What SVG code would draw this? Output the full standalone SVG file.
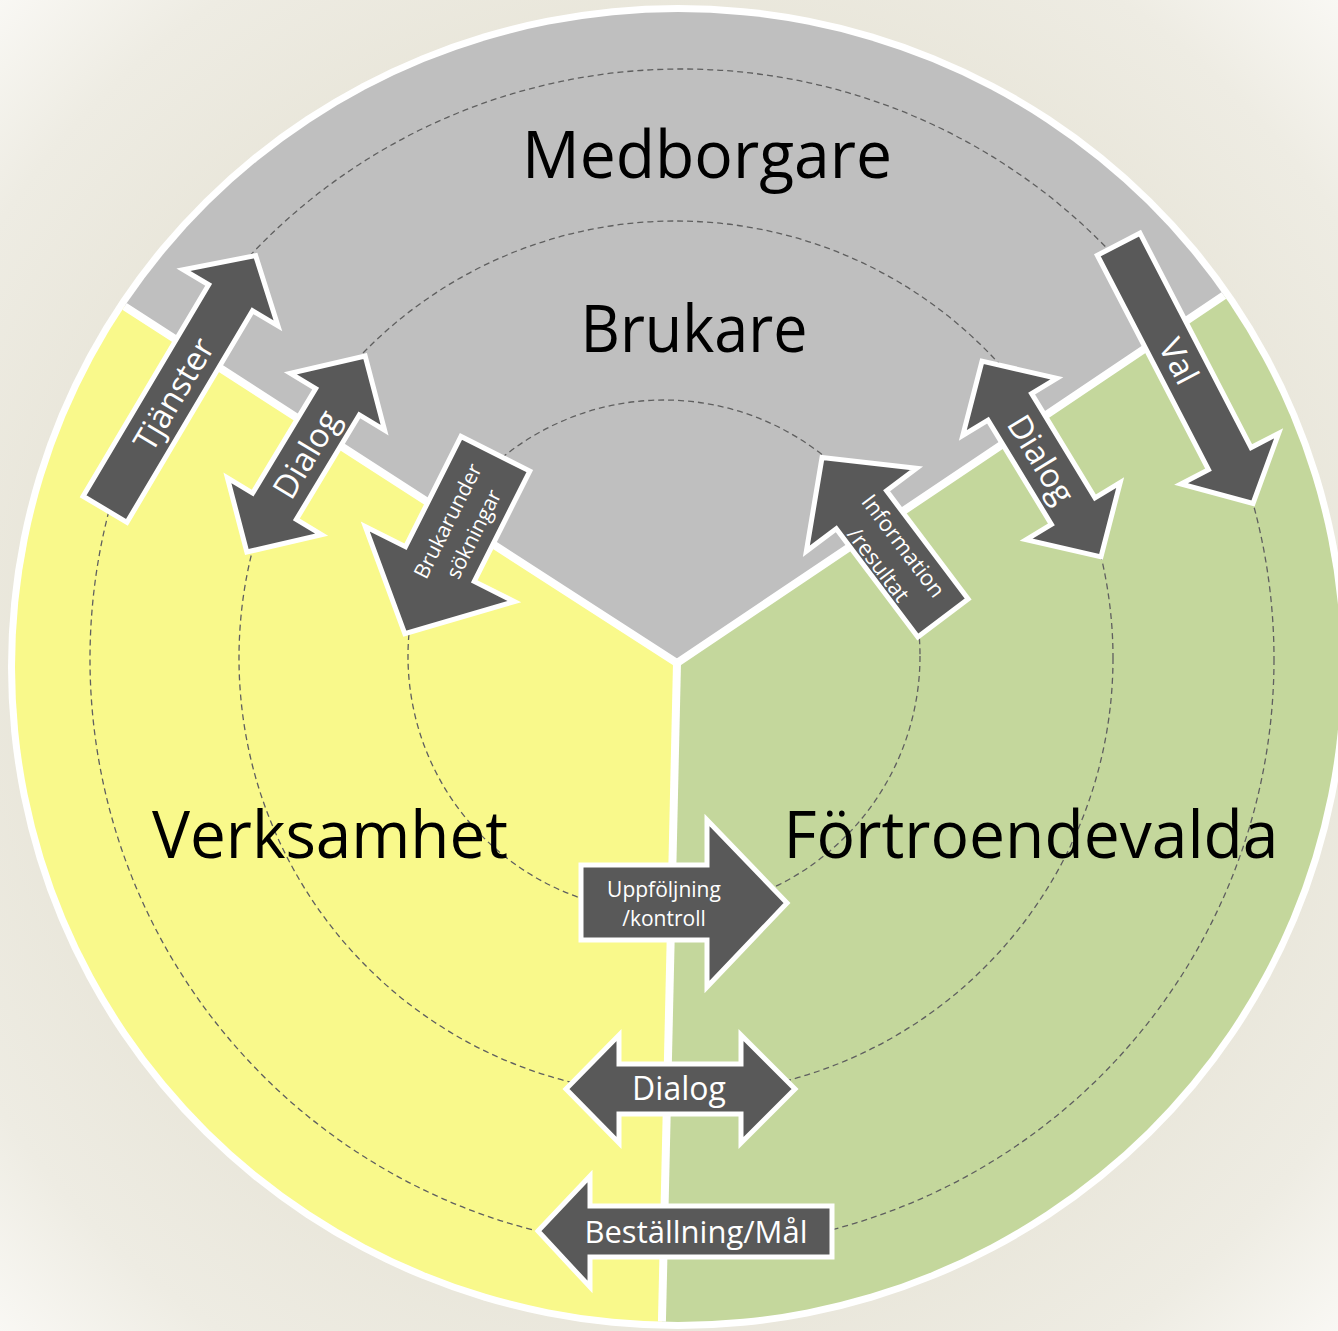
<svg xmlns="http://www.w3.org/2000/svg" width="1338" height="1331" viewBox="0 0 1338 1331">
<defs>
<radialGradient id="bg" cx="669" cy="665" r="945" gradientUnits="userSpaceOnUse">
<stop offset="0.6" stop-color="#e7e4d7"/>
<stop offset="0.85" stop-color="#eeece3"/>
<stop offset="1" stop-color="#f9f8f4"/>
</radialGradient>
<clipPath id="disc"><ellipse cx="678" cy="667" rx="663" ry="655"/></clipPath>
<style>
.arrow{fill:#595959;stroke:#fff;stroke-width:5;stroke-linejoin:miter}
.lbl{fill:#fff;font-family:"Open Sans","Liberation Sans",sans-serif;text-anchor:middle}
.big{fill:#000;font-family:"Open Sans","Liberation Sans",sans-serif;font-size:66px;text-anchor:middle}
.dash{fill:none;stroke:#5f5f5f;stroke-width:1.3;stroke-dasharray:6 4}
.sep{fill:none;stroke:#fff;stroke-width:8;stroke-linejoin:miter}
</style>
</defs>
<rect x="0" y="0" width="1338" height="1331" fill="url(#bg)"/>
<ellipse cx="678" cy="667" rx="670" ry="662" fill="#fff"/>
<g clip-path="url(#disc)">
<g id="medborgare-brukare">
<polygon points="677,663 -155,126 -155,-100 1500,-100 1494,114" fill="#bfbfbf"/>
</g>
<g id="verksamhet">
<polygon points="677,663 -155,126 -155,1500 659,1450" fill="#f9f98b"/>
</g>
<g id="fortroendevalda">
<polygon points="677,663 659,1450 1500,1500 1494,114" fill="#c4d79c"/>
</g>
<polyline class="sep" points="-155,126 677,663 1494,114"/>
<line class="sep" x1="677" y1="663" x2="659" y2="1450"/>
<g id="rings">
<circle class="dash" cx="664" cy="656" r="256"/>
<circle class="dash" cx="676" cy="658" r="437"/>
<ellipse class="dash" cx="682" cy="659" rx="592" ry="590"/>
</g>
</g>
<g id="labels">
<text class="big" x="707" y="178" textLength="370" lengthAdjust="spacingAndGlyphs">Medborgare</text>
<text class="big" x="694" y="352" textLength="227" lengthAdjust="spacingAndGlyphs">Brukare</text>
<text class="big" x="330" y="858" textLength="356" lengthAdjust="spacingAndGlyphs">Verksamhet</text>
<text class="big" x="1031" y="858" textLength="495" lengthAdjust="spacingAndGlyphs">Förtroendevalda</text>
</g>
<g id="connectors">
<g id="tjanster" transform="translate(104,511) rotate(-59.3)">
<polygon class="arrow" points="2,-25.5 248,-25.5 248,-55 297,0 248,55 248,25.5 2,25.5"/>
<text class="lbl" x="136" y="12" font-size="33">Tjänster</text>
</g>
<g id="dialog-left" transform="translate(306,454) rotate(-58.9)">
<polygon class="arrow" points="-114.5,0 -61,-55 -61,-25.5 61,-25.5 61,-55 114.5,0 61,55 61,25.5 -61,25.5 -61,55"/>
<text class="lbl" x="0" y="12" font-size="33">Dialog</text>
</g>
<g id="brukarundersokningar" transform="translate(496.5,451.5) rotate(116.7)">
<polygon class="arrow" points="2.5,-38.5 126,-38.5 126,-83.5 204,0 126,83.5 126,38.5 2.5,38.5"/>
<g transform="translate(84,0) rotate(180)">
<text class="lbl" x="0" y="-5" font-size="21">Brukarunder</text>
<text class="lbl" x="0" y="24" font-size="21">sökningar</text>
</g>
</g>
<g id="information" transform="translate(944.5,620) rotate(-127)">
<polygon class="arrow" points="2.5,-31.5 138,-31.5 138,-69 203.5,0 138,69 138,31.5 2.5,31.5"/>
<g transform="translate(84,0) rotate(180)">
<text class="lbl" x="0" y="-4" font-size="22">Information</text>
<text class="lbl" x="0" y="27" font-size="22">/resultat</text>
</g>
</g>
<g id="dialog-right" transform="translate(1041.5,459) rotate(58.7)">
<polygon class="arrow" points="-114.5,0 -61,-55 -61,-25.5 61,-25.5 61,-55 114.5,0 61,55 61,25.5 -61,25.5 -61,55"/>
<text class="lbl" x="0" y="12" font-size="33">Dialog</text>
</g>
<g id="val" transform="translate(1117.5,242) rotate(62.6)">
<polygon class="arrow" points="2.5,-24 244,-24 244,-55 294.5,0 244,55 244,24 2.5,24"/>
<text class="lbl" x="134" y="12" font-size="33">Val</text>
</g>
<g id="uppfoljning">
<polygon class="arrow" points="581,865 707,865 707,820 787,903 707,987 707,940 581,940"/>
<text class="lbl" x="664" y="897" font-size="21">Uppföljning</text>
<text class="lbl" x="664" y="926" font-size="21">/kontroll</text>
</g>
<g id="dialog-bottom">
<polygon class="arrow" points="566,1089 619,1035 619,1064 741,1064 741,1035 795,1089 741,1143 741,1114 619,1114 619,1143"/>
<text class="lbl" x="679" y="1100" font-size="32">Dialog</text>
</g>
<g id="bestallning">
<polygon class="arrow" points="538,1231 590,1176 590,1206 832,1206 832,1257 590,1257 590,1287"/>
<text class="lbl" x="696" y="1243" font-size="31">Beställning/Mål</text>
</g>
</g>
</svg>
